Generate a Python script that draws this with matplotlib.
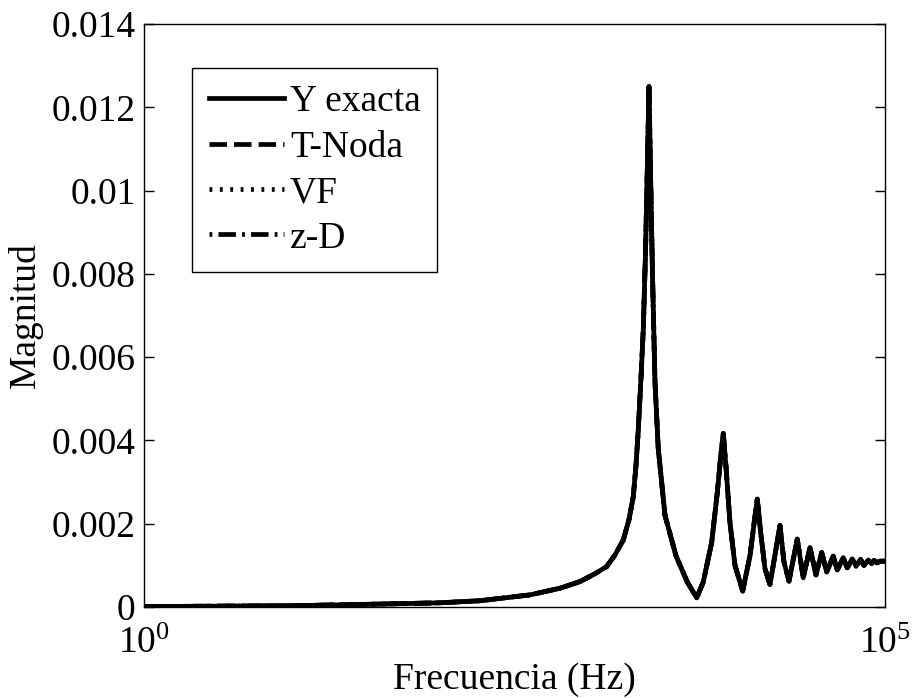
import numpy as np
import matplotlib
matplotlib.use("Agg")
import matplotlib.pyplot as plt
from matplotlib.ticker import FixedLocator, NullLocator

# values
freq_hz = [
    1, 10, 39.1, 99.4, 185, 402, 641, 875, 1105, 1325, 1507, 1715, 1874,
    2003, 2089, 2165, 2258, 2340, 2421, 2497, 2556, 2616, 2699, 2806, 2953,
    3278, 3888, 4634, 5363, 5943, 6771, 7385, 7788, 8107, 8455, 9000, 9725,
    10960, 12277, 13270, 13750, 14500, 15500, 16750, 18390, 19560, 20820,
    22500, 25600, 28100, 31180, 34220, 37400, 40430, 44780, 47660, 52320,
    55680, 60160, 63730, 68550, 72160, 77140, 81340, 84300, 88300, 92530,
    100000,
]
magnitud = [
    0.00001, 0.00003, 0.00007, 0.0001, 0.00015, 0.00029, 0.00045, 0.00061,
    0.0008, 0.00097, 0.00125, 0.00161, 0.0021, 0.00265, 0.0034, 0.00426,
    0.0055, 0.00667, 0.0085, 0.0107, 0.0125, 0.0105, 0.008, 0.0054, 0.0038,
    0.0022, 0.00123, 0.0006, 0.00022, 0.0006, 0.00155, 0.00274, 0.0036,
    0.00417, 0.00337, 0.00202, 0.001, 0.00038, 0.00123, 0.00218, 0.00259,
    0.00179, 0.00092, 0.00054, 0.00139, 0.00196, 0.00108, 0.00062, 0.00163,
    0.0007, 0.00143, 0.00077, 0.00131, 0.00084, 0.00122, 0.00089, 0.00118,
    0.00094, 0.00115, 0.00098, 0.00114, 0.001, 0.00113, 0.00104, 0.00112,
    0.00106, 0.0011, 0.0011,
]
# the approximations lie on top of the exact curve in the picture
series = ["T-Noda", "VF", "z-D"]
styles = [(0, (3.7, 1.5)), (0, (0.6, 1.6)), (0, (0.6, 1.3, 3.7, 1.3))]
y_ticks = [0, 0.002, 0.004, 0.006, 0.008, 0.01, 0.012, 0.014]
y_labels = ["0", "0.002", "0.004", "0.006", "0.008", "0.01", "0.012", "0.014"]

plt.rcParams["font.family"] = ["Liberation Serif", "DejaVu Serif"]
plt.rcParams["mathtext.fontset"] = "stix"

fig = plt.figure(figsize=(9.13, 6.98), dpi=100)
ax = fig.add_axes([0.1577, 0.1304, 0.8116, 0.8352])

for name, ls in zip(series, styles):
    ax.plot(freq_hz, magnitud, color="black", linestyle=ls, lw=3.4, label=name)
ax.plot(freq_hz, magnitud, color="black", lw=3.4, label="Y exacta")

ax.set_xscale("log")
ax.set_xlim(1, 1e5)
ax.set_ylim(0, 0.014)
ax.xaxis.set_major_locator(FixedLocator([1, 1e5]))
ax.xaxis.set_minor_locator(NullLocator())
ax.set_yticks(y_ticks)
ax.set_yticklabels(y_labels)

ax.tick_params(axis="y", direction="in", length=7, width=1, labelsize=27,
               right=True, pad=6)
ax.tick_params(axis="x", direction="in", length=0, labelsize=27, pad=14)
for s in ax.spines.values():
    s.set_linewidth(1.0)

ax.set_xlabel("Frecuencia (Hz)", fontsize=27, labelpad=1)
ax.set_ylabel("Magnitud", fontsize=27, labelpad=6)

handles, labels = ax.get_legend_handles_labels()
order = [3, 0, 1, 2]
leg = ax.legend([handles[i] for i in order], [labels[i] for i in order],
                loc="upper left", bbox_to_anchor=(0.0648, 0.9245),
                borderaxespad=0, fontsize=27, handlelength=2.0,
                handletextpad=0.16, labelspacing=0.29, borderpad=0.45,
                fancybox=False, framealpha=1, edgecolor="black")
leg.get_frame().set_linewidth(1.0)

fig.savefig("out.png", dpi=100)
